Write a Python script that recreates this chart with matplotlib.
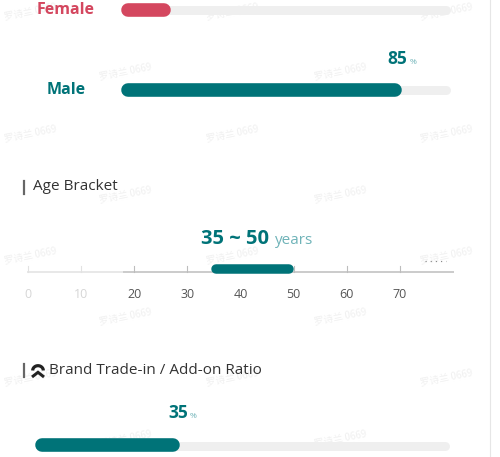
import numpy as np
import matplotlib.pyplot as plt

plt.rcParams['font.family'] = ['Open Sans', 'Noto Sans CJK SC', 'DejaVu Sans']

# data
genders = ['Female', 'Male']
gender_share = [15, 85]
gender_colors = ['#d4475f', '#007378']
age_ticks = [0, 10, 20, 30, 40, 50, 60, 70]
age_range = [35, 50]
age_axis_max = 80
age_light_end = 18
tradein_ratio = 35

W, H = 500, 457
TEAL = '#007378'
LTEAL = '#6fb3b8'
TRACK = '#efefef'

fig = plt.figure(figsize=(W / 100, H / 100), dpi=100)
fig.patch.set_facecolor('white')

# full-figure pixel axes for decoration
bg = fig.add_axes([0, 0, 1, 1])
bg.set_xlim(0, W)
bg.set_ylim(H, 0)
bg.axis('off')


def px_axes(x0, y0, x1, y1):
    ax = fig.add_axes([x0 / W, 1 - y1 / H, (x1 - x0) / W, (y1 - y0) / H])
    ax.axis('off')
    ax.set_ylim(y1, y0)
    return ax


def lw(px):
    return px * 0.72


# watermarks
for yy, xs in [(12, [30, 232, 446]), (72, [125, 340]), (134, [30, 232, 446]),
               (195, [125, 340]), (256, [30, 232, 446]), (317, [125, 340]),
               (378, [30, 232, 446]), (439, [125, 340])]:
    for xx in xs:
        bg.text(xx, yy, '罗诗兰 0669', fontsize=7, color='#f0f0f0', rotation=11,
                ha='center', va='center', family=['Noto Sans CJK SC', 'DejaVu Sans'],
                zorder=0)

# right border line
bg.plot([490, 490], [0, H], color='#e6e6e6', lw=0.8)

# ---- gender bars ----
x0, x1 = 121, 451
scale = (x1 - x0) / 100.0
gender_y = [10, 90]
gax = px_axes(x0 - 10, 0, x1 + 10, 100)
gax.set_xlim(-10 / scale, 100 + 10 / scale)
for name, val, col, yy in zip(genders, gender_share, gender_colors, gender_y):
    r_track = 4.5 / scale
    gax.plot([r_track, 100 - r_track], [yy, yy], color=TRACK, lw=lw(9),
             solid_capstyle='round')
    r = 6.8 / scale
    gax.plot([r, val - r], [yy, yy], color=col, lw=lw(13.6),
             solid_capstyle='round')
    bg.text(66, yy, name, fontsize=11.5, fontweight='bold', color=col,
            ha='center', va='center')

male_val = gender_share[1]
xm = x0 + male_val * scale
bg.text(xm - 4, 59, f'{male_val}', fontsize=12.5, fontweight='bold', color=TEAL,
        ha='center', va='center')
bg.text(xm + 8, 63, '%', fontsize=6, color=LTEAL, ha='left', va='center')

# ---- Age bracket ----
bg.plot([24, 24], [181, 194], color='#666666', lw=lw(2.2))
bg.text(33, 187, 'Age Bracket', fontsize=11, color='#333333', ha='left', va='center')

a0, a1 = 28, 453
ascale = (a1 - a0) / age_axis_max
aax = px_axes(a0 - 10, 250, a1 + 10, 305)
aax.set_xlim(-10 / ascale, age_axis_max + 10 / ascale)
line_y = 272
aax.plot([0, age_light_end], [line_y, line_y], color='#e8e8e8', lw=lw(2))
aax.plot([age_light_end, age_axis_max], [line_y, line_y], color='#cccccc', lw=lw(2))
for tk in age_ticks:
    c = '#e2e2e2' if tk < age_light_end else '#bdbdbd'
    tc = '#d6d6d6' if tk < age_light_end else '#555555'
    aax.plot([tk, tk], [266, line_y], color=c, lw=0.8)
    aax.text(tk, 295, str(tk), fontsize=9, color=tc, ha='center', va='center')
r = 4.5 / ascale
aax.plot([age_range[0] - 0.5 + r, age_range[1] - r], [268.5, 268.5], color=TEAL,
         lw=lw(9.5), solid_capstyle='round')
# "more" dots past the last tick
bg.plot([425, 446], [261, 261], color='#8a8a8a', lw=lw(1.2), ls=(0, (1, 3.3)))

bg.text(235, 239, f'{age_range[0]} ~ {age_range[1]}', fontsize=14.5, fontweight='bold',
        color=TEAL, ha='center', va='center')
bg.text(275, 240, 'years', fontsize=11, color=LTEAL, ha='left', va='center')

# ---- Brand trade-in ----
bg.plot([24, 24], [364, 377], color='#666666', lw=lw(2.2))
# logo
th = np.linspace(0, np.pi, 30)
bg.plot(38 + 5.3 * np.cos(th), 370.5 - 4.8 * np.sin(th), color='#222222', lw=lw(3.2),
        solid_capstyle='butt')
bg.plot([32, 38, 44], [377, 372.3, 377], color='#222222', lw=lw(3),
        solid_joinstyle='miter', solid_capstyle='butt')
bg.text(49, 370, 'Brand Trade-in / Add-on Ratio', fontsize=11, color='#333333',
        ha='left', va='center')

b0, b1 = 35, 449
bscale = (b1 - b0) / 100.0
bax = px_axes(b0 - 10, 430, b1 + 10, 457)
bax.set_xlim(-10 / bscale, 100 + 10 / bscale)
rt = 4.5 / bscale
bax.plot([rt, 100 - rt], [446, 446], color=TRACK, lw=lw(9), solid_capstyle='round')
r = 6.8 / bscale
bax.plot([r, tradein_ratio - r], [445, 445], color=TEAL, lw=lw(13.6),
         solid_capstyle='round')
xb = b0 + tradein_ratio * bscale
bg.text(xb - 2, 413, f'{tradein_ratio}', fontsize=12.5, fontweight='bold', color=TEAL,
        ha='center', va='center')
bg.text(xb + 10, 417, '%', fontsize=6, color=LTEAL, ha='left', va='center')

fig.savefig('out.png', dpi=100)
